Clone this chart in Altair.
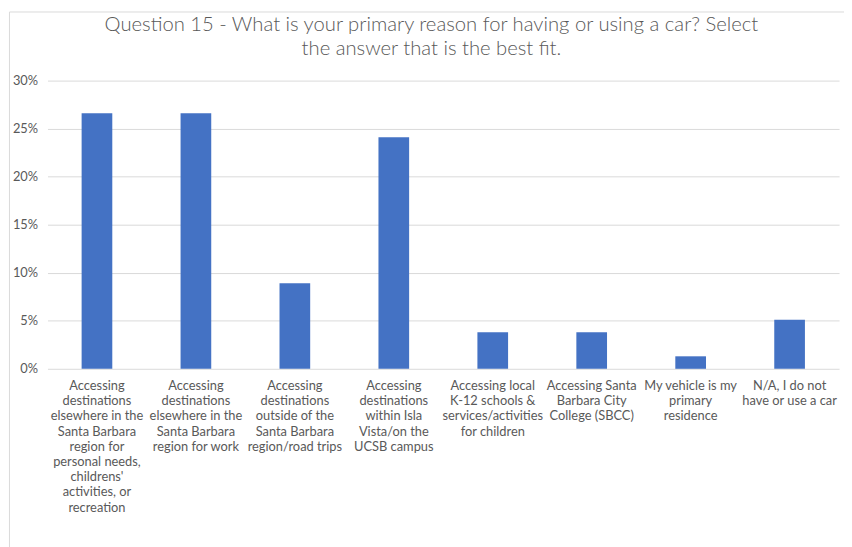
import altair as alt
import pandas as pd

categories = [
    "Accessing\ndestinations\nelsewhere in the\nSanta Barbara\nregion for\npersonal needs,\nchildrens'\nactivities, or\nrecreation",
    "Accessing\ndestinations\nelsewhere in the\nSanta Barbara\nregion for work",
    "Accessing\ndestinations\noutside of the\nSanta Barbara\nregion/road trips",
    "Accessing\ndestinations\nwithin Isla\nVista/on the\nUCSB campus",
    "Accessing local\nK-12 schools &\nservices/activities\nfor children",
    "Accessing Santa\nBarbara City\nCollege (SBCC)",
    "My vehicle is my\nprimary\nresidence",
    "N/A, I do not\nhave or use a car",
]
values = [0.266, 0.266, 0.089, 0.241, 0.038, 0.038, 0.013, 0.051]
y_ticks = [0, 0.05, 0.10, 0.15, 0.20, 0.25, 0.30]

df = pd.DataFrame({"cat": categories, "val": values})

FONT = "Lato"
GRAY = "#595959"

bars = alt.Chart(df).mark_bar(color="#4472C4").encode(
    x=alt.X(
        "cat:N",
        sort=categories,
        title=None,
        scale=alt.Scale(paddingInner=0.69, paddingOuter=0.345),
        axis=alt.Axis(
            labelAngle=0,
            labelExpr="split(datum.label, '\\n')",
            labelLimit=0,
            labelFont=FONT,
            labelFontSize=13,
            labelColor=GRAY,
            labelLineHeight=15.4,
            labelPadding=11,
            labelBaseline="top",
            ticks=False,
            domain=False,
            grid=False,
        ),
    ),
    y=alt.Y(
        "val:Q",
        title=None,
        scale=alt.Scale(domain=[0, 0.30], nice=False),
        axis=alt.Axis(
            values=y_ticks,
            format=".0%",
            labelFont=FONT,
            labelFontSize=13,
            labelColor=GRAY,
            labelPadding=10,
            ticks=False,
            domain=False,
            grid=True,
            gridColor="#d9d9d9",
            gridWidth=1,
        ),
    ),
)

border = alt.Chart(pd.DataFrame({"a": [0]})).mark_rect(
    fill=None, stroke="#d9d9d9", strokeWidth=1
).encode(
    x=alt.value(-38.5),
    x2=alt.value(830),
    y=alt.value(-69.5),
    y2=alt.value(490),
)

chart = alt.layer(border, bars).properties(
    width=802,
    height=292,
    padding={"left": 40, "top": 70, "right": 5, "bottom": 177},
    autosize=alt.AutoSizeParams(type="none"),
    title=alt.TitleParams(
        text=[
            "Question 15 - What is your primary reason for having or using a car? Select",
            "the answer that is the best fit.",
        ],
        font=FONT,
        fontSize=20.5,
        fontWeight=300,
        color=GRAY,
        anchor="middle",
        frame="group",
        dx=-12,
        offset=-49,
        lineHeight=25,
    ),
).configure_view(stroke=None)

chart.save("out.html", embed_options={"renderer": "svg", "actions": False})
